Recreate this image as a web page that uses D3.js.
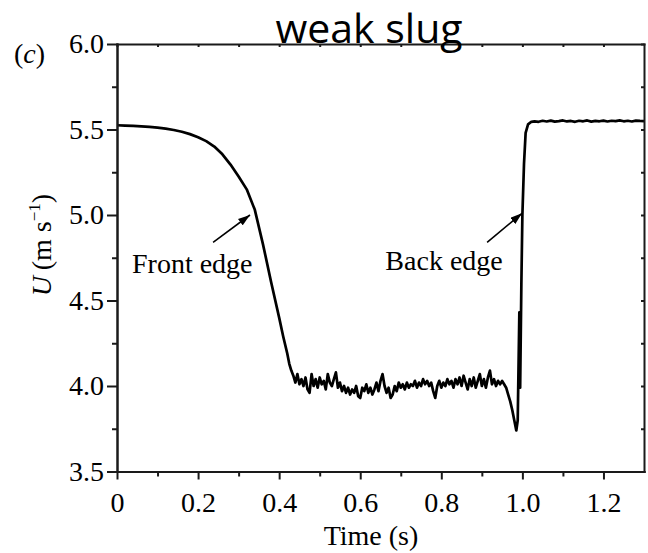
<!DOCTYPE html>
<html>
<head>
<meta charset="utf-8">
<script src="https://cdn.jsdelivr.net/npm/d3@7"></script>
<style>
  body { margin: 0; background: #fff; }
  svg { display: block; background: #fff; }
  .axis text { font-family: "Liberation Serif", "Times New Roman", serif; font-size: 28px; fill: #000; }
  .axis path, .axis line { stroke: #1a1a1a; stroke-width: 2; }
  .serif { font-family: "Liberation Serif", "Times New Roman", serif; font-size: 28px; fill: #000; }
</style>
</head>
<body>
<svg id="chart" width="648" height="553"></svg>
<script>
// front part: slow decay then the front edge of the slug
const frontTime = [0, 0.02, 0.04, 0.06, 0.08, 0.10, 0.12, 0.14, 0.16, 0.18, 0.20, 0.22, 0.24, 0.26,
  0.28, 0.30, 0.32, 0.34, 0.36, 0.38, 0.40, 0.41, 0.42, 0.425, 0.43];
const frontU = [5.525, 5.523, 5.521, 5.518, 5.515, 5.511, 5.505, 5.497, 5.487, 5.473, 5.455, 5.432, 5.40, 5.355,
  5.295, 5.225, 5.15, 5.03, 4.83, 4.61, 4.40, 4.29, 4.19, 4.13, 4.09];

// slug body (noisy plateau around 4.0)
const slugTime = [0.435, 0.440, 0.445, 0.450, 0.455, 0.460, 0.465, 0.470, 0.475, 0.480,
  0.485, 0.490, 0.495, 0.500, 0.505, 0.510, 0.515, 0.520, 0.525, 0.530,
  0.535, 0.540, 0.545, 0.550, 0.555, 0.560, 0.565, 0.570, 0.575, 0.580,
  0.585, 0.590, 0.595, 0.600, 0.605, 0.610, 0.615, 0.620, 0.625, 0.630,
  0.635, 0.640, 0.645, 0.650, 0.655, 0.660, 0.665, 0.670, 0.675, 0.680,
  0.685, 0.690, 0.695, 0.700, 0.705, 0.710, 0.715, 0.720, 0.725, 0.730,
  0.735, 0.740, 0.745, 0.750, 0.755, 0.760, 0.765, 0.770, 0.775, 0.780,
  0.785, 0.790, 0.795, 0.800, 0.805, 0.810, 0.815, 0.820, 0.825, 0.830,
  0.835, 0.840, 0.845, 0.850, 0.855, 0.860, 0.865, 0.870, 0.875, 0.880,
  0.885, 0.890, 0.895, 0.900, 0.905, 0.910, 0.915, 0.920, 0.925, 0.930,
  0.935, 0.940, 0.945, 0.950, 0.955];
const slugU = [4.06, 4.02, 4.07, 4.01, 4.04, 4.00, 4.05, 3.98, 3.96, 4.07,
  4.00, 4.04, 3.99, 4.05, 4.01, 4.03, 3.98, 4.07, 4.02, 4.00,
  4.04, 4.08, 3.99, 4.02, 3.97, 4.00, 3.96, 3.99, 3.95, 3.98,
  3.96, 4.00, 3.94, 3.93, 3.99, 3.97, 4.01, 3.96, 3.99, 3.95,
  3.98, 4.02, 3.97, 4.03, 4.07, 4.00, 3.96, 3.99, 3.93, 3.95,
  4.00, 3.97, 4.02, 3.99, 4.01, 3.98, 4.02, 3.99, 4.01, 4.00,
  4.03, 3.99, 4.02, 4.00, 4.04, 4.01, 4.03, 4.00, 4.02, 3.97,
  3.93, 4.00, 4.03, 3.99, 4.02, 4.00, 4.04, 4.01, 4.03, 3.99,
  4.04, 4.01, 4.05, 4.00, 4.06, 4.02, 3.98, 4.04, 4.00, 4.05,
  3.99, 4.03, 4.07, 4.00, 4.04, 3.99, 4.05, 4.09, 4.01, 4.04,
  4.00, 4.03, 4.01, 4.03, 4.01];

// dip and back edge
const backTime = [0.960, 0.965, 0.970, 0.975, 0.980, 0.985, 0.9885, 0.9925, 0.9945, 0.9975,
  1.000, 1.004, 1.008, 1.014, 1.022];
const backU = [3.99, 3.95, 3.91, 3.86, 3.80, 3.74, 3.80, 4.43, 3.99, 4.60,
  5.00, 5.30, 5.48, 5.53, 5.545];

// trailing plateau
const tailTime = [1.03, 1.04, 1.05, 1.06, 1.07, 1.08, 1.09, 1.10, 1.11, 1.12, 1.13, 1.14, 1.15, 1.16,
  1.17, 1.18, 1.19, 1.20, 1.21, 1.22, 1.23, 1.24, 1.25, 1.26, 1.27, 1.28, 1.29, 1.30];
const tailU = [5.548, 5.545, 5.551, 5.547, 5.552, 5.546, 5.549, 5.553, 5.547, 5.550, 5.545, 5.551, 5.548, 5.553,
  5.546, 5.550, 5.548, 5.552, 5.547, 5.551, 5.549, 5.553, 5.548, 5.551, 5.547, 5.552, 5.550, 5.549];

const xMajorTicks = [0, 0.2, 0.4, 0.6, 0.8, 1.0, 1.2];
const xMinorTicks = [0.1, 0.3, 0.5, 0.7, 0.9, 1.1];
const yMajorTicks = [3.5, 4.0, 4.5, 5.0, 5.5, 6.0];
const yMinorTicks = [3.75, 4.25, 4.75, 5.25, 5.75];

// annotations, in data units
const notes = [
  { label: "Front edge", tail: [0.237, 4.84], tip: [0.328, 5.0], text: [0.037, 4.66] },
  { label: "Back edge", tail: [0.913, 4.84], tip: [0.999, 5.01], text: [0.662, 4.68] }
];

const svg = d3.select("#chart");
const x = d3.scaleLinear().domain([0, 1.3]).range([117, 644]);
const y = d3.scaleLinear().domain([3.5, 6.0]).range([471.5, 44]);

const series = [];
[[frontTime, frontU], [slugTime, slugU], [backTime, backU], [tailTime, tailU]].forEach(([ts, us]) => {
  ts.forEach((t, i) => series.push({ t: t, u: us[i] }));
});

// curve
const line = d3.line().x(d => x(d.t)).y(d => y(d.u));
svg.append("path")
  .datum(series)
  .attr("d", line)
  .attr("fill", "none")
  .attr("stroke", "#000")
  .attr("stroke-width", 2.7)
  .attr("stroke-linejoin", "round");

// frame: mirrored small inward ticks on top and right
svg.append("g").attr("class", "axis")
  .attr("transform", `translate(0,${y(6.0)})`)
  .call(d3.axisTop(x).tickValues(xMajorTicks.concat(xMinorTicks)).tickSize(-3).tickSizeOuter(0).tickFormat(""));
svg.append("g").attr("class", "axis")
  .attr("transform", `translate(${x(1.3)},0)`)
  .call(d3.axisRight(y).tickValues(yMajorTicks.concat(yMinorTicks)).tickSize(-3).tickSizeOuter(0).tickFormat(""));

// bottom axis
svg.append("g").attr("class", "axis")
  .attr("transform", `translate(0,${y(3.5)})`)
  .call(d3.axisBottom(x).tickValues(xMinorTicks).tickSize(5).tickSizeOuter(0).tickFormat(""));
svg.append("g").attr("class", "axis")
  .attr("transform", `translate(0,${y(3.5)})`)
  .call(d3.axisBottom(x).tickValues(xMajorTicks).tickSize(8).tickPadding(13).tickSizeOuter(0)
    .tickFormat(d => d === 0 ? "0" : d3.format(".1f")(d)));

// left axis
svg.append("g").attr("class", "axis")
  .attr("transform", `translate(${x(0)},0)`)
  .call(d3.axisLeft(y).tickValues(yMinorTicks).tickSize(5).tickSizeOuter(0).tickFormat(""));
svg.append("g").attr("class", "axis")
  .attr("transform", `translate(${x(0)},0)`)
  .call(d3.axisLeft(y).tickValues(yMajorTicks).tickSize(10).tickPadding(3).tickSizeOuter(0)
    .tickFormat(d3.format(".1f")));

svg.selectAll(".axis .domain").attr("stroke-linecap", "square");

// axis titles
svg.append("text").attr("class", "serif")
  .attr("x", 371).attr("y", 545)
  .attr("text-anchor", "middle")
  .text("Time (s)");

const yTitle = svg.append("text").attr("class", "serif")
  .attr("transform", "translate(51,245) rotate(-90)")
  .attr("text-anchor", "middle");
yTitle.append("tspan").attr("font-style", "italic").text("U");
yTitle.append("tspan").text("\u2009(m s");
yTitle.append("tspan").attr("font-size", "17px").attr("dy", -11).text("\u22121");
yTitle.append("tspan").attr("dy", 11).text(")");

// panel letter
const panel = svg.append("text").attr("class", "serif").attr("x", 14).attr("y", 63);
panel.append("tspan").text("(");
panel.append("tspan").attr("font-style", "italic").text("c");
panel.append("tspan").text(")");

// title
svg.append("text")
  .attr("x", 369).attr("y", 43)
  .attr("text-anchor", "middle")
  .attr("font-family", "'Open Sans', sans-serif")
  .attr("font-size", "41px")
  .attr("fill", "#000")
  .text("weak slug");

// arrows
svg.append("defs").append("marker")
  .attr("id", "head")
  .attr("viewBox", "0 0 12 8")
  .attr("refX", 12).attr("refY", 4)
  .attr("markerWidth", 12).attr("markerHeight", 8)
  .attr("markerUnits", "userSpaceOnUse")
  .attr("orient", "auto")
  .append("path").attr("d", "M0,0 L12,4 L0,8 Z").attr("fill", "#000");

notes.forEach(n => {
  svg.append("line")
    .attr("x1", x(n.tail[0])).attr("y1", y(n.tail[1]))
    .attr("x2", x(n.tip[0])).attr("y2", y(n.tip[1]))
    .attr("stroke", "#000").attr("stroke-width", 1.6)
    .attr("marker-end", "url(#head)");
  svg.append("text").attr("class", "serif")
    .attr("x", x(n.text[0])).attr("y", y(n.text[1]))
    .text(n.label);
});
</script>
</body>
</html>
